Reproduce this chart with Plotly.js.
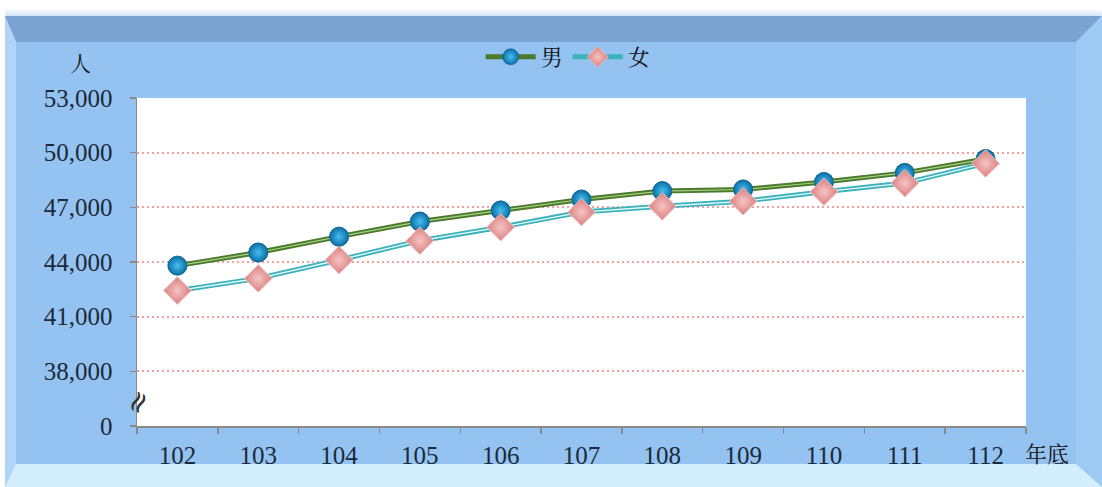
<!DOCTYPE html>
<html>
<head>
<meta charset="utf-8">
<script src="https://cdn.plot.ly/plotly-3.0.1.min.js"></script>
<style>
  html, body { margin:0; padding:0; background:#ffffff; }
  #wrap { position:relative; width:1102px; height:487px; overflow:hidden; }
  .pc { position:absolute; left:0; top:0; width:1102px; height:487px; }
  #frame { background:#95c3f1; }
  #topstrip { position:absolute; left:5px; top:10px; width:1097px; height:6px;
    background:linear-gradient(#f2f7fc,#d6e7f7); }
  #topbev { clip-path:polygon(5px 16px,1102px 16px,1076px 42px,16px 42px);
    background:linear-gradient(#7ba2d1,#8bb7e7); }
  #leftbev { clip-path:polygon(5px 16px,16px 42px,16px 464px,5px 487px);
    background:linear-gradient(90deg,#b0d5f7,#a0cbf4); }
  #rightbev { clip-path:polygon(1102px 16px,1076px 42px,1076px 464px,1102px 487px);
    background:linear-gradient(90deg,#84b4e9,#9ecbf4); }
  #botbev { clip-path:polygon(5px 487px,16px 464px,1076px 464px,1102px 487px);
    background:linear-gradient(#b2daf8,#d3effd); }
  #outer { clip-path:polygon(5px 10px,1102px 10px,1102px 487px,5px 487px); }
  #chart { position:absolute; left:0; top:0; width:1102px; height:487px; }
</style>
</head>
<body>
<div id="wrap">
  <div id="outer" class="pc">
    <div id="frame" class="pc"></div>
    <div id="topbev" class="pc"></div>
    <div id="leftbev" class="pc"></div>
    <div id="rightbev" class="pc"></div>
    <div id="botbev" class="pc"></div>
    <div id="topstrip"></div>
  </div>
  <div id="chart"></div>
</div>
<script>
// ---- data ----
const years = ["102","103","104","105","106","107","108","109","110","111","112"];
const male = [43800, 44520, 45390, 46220, 46830, 47430, 47890, 47980, 48390, 48890, 49650];
const female = [42430, 43100, 44110, 45170, 45910, 46740, 47060, 47330, 47860, 48330, 49410];
const yTickVals = [35000, 38000, 41000, 44000, 47000, 50000, 53000];
const yTickText = ["0", "38,000", "41,000", "44,000", "47,000", "50,000", "53,000"];
const maleName = "男";
const femaleName = "女";
const yUnit = "人";
const xUnit = "年底";

const serif = "Liberation Serif, DejaVu Serif, serif";
const cjk = "Noto Serif CJK TC, Noto Sans CJK TC, sans-serif";

// gradient.color = centre colour, marker.color = edge colour
const maleMarker = {symbol:"circle", size:19, color:"#0c6fa6",
  gradient:{type:"radial", color:"#45bff0"}, line:{color:"#0a5f8c", width:0.6}};
const femaleMarker = {symbol:"diamond", size:21, color:"#d97f80",
  gradient:{type:"radial", color:"#f7c4c3"}, line:{color:"#f0bdbc", width:1}};

const traces = [
  {x:years, y:male, name:maleName, type:"scatter", mode:"lines+markers",
   line:{color:"#4a7b2b", width:5}, marker:maleMarker, legendgroup:"m"},
  {x:years, y:male, type:"scatter", mode:"lines", showlegend:false, hoverinfo:"skip",
   line:{color:"#a8cf88", width:1.2}, legendgroup:"m"},
  {x:years, y:female, name:femaleName, type:"scatter", mode:"lines+markers",
   line:{color:"#3cb2bd", width:5}, marker:femaleMarker, legendgroup:"f"},
  {x:years, y:female, type:"scatter", mode:"lines", showlegend:false, hoverinfo:"skip",
   line:{color:"#e9fafb", width:1.3}, legendgroup:"f"},
  {x:years, y:male, type:"scatter", mode:"markers", showlegend:false, hoverinfo:"skip",
   marker:maleMarker, legendgroup:"m"},
  {x:years, y:female, type:"scatter", mode:"markers", showlegend:false, hoverinfo:"skip",
   marker:femaleMarker, legendgroup:"f"}
];

const layout = {
  width:1102, height:487,
  margin:{l:137, r:76, t:98, b:61},
  paper_bgcolor:"rgba(0,0,0,0)",
  plot_bgcolor:"#ffffff",
  showlegend:true,
  legend:{orientation:"h", x:0.485, xanchor:"center", y:1.125, yanchor:"middle",
    font:{family:cjk, size:22, color:"#111"}, bgcolor:"rgba(0,0,0,0)",
    itemwidth:50, traceorder:"normal"},
  xaxis:{type:"category", categoryorder:"array", categoryarray:years,
    range:[-0.5, 10.5], autorange:false,
    showline:true, linecolor:"#8a8a8a", linewidth:1.5,
    ticks:"outside", tickson:"boundaries", ticklen:6, tickcolor:"#8a8a8a", tickwidth:1.5,
    showgrid:false, zeroline:false, ticklabelstandoff:6,
    tickfont:{family:serif, size:25, color:"#1a2a3a"}},
  yaxis:{range:[35000,53000], autorange:false, tickmode:"array", tickvals:yTickVals, ticktext:yTickText,
    showline:true, linecolor:"#8a8a8a", linewidth:1.5,
    ticks:"outside", ticklen:6, tickcolor:"#8a8a8a", tickwidth:1.5,
    showgrid:true, gridcolor:"#f3a0a0", griddash:"2px,3px", gridwidth:2,
    zeroline:false, ticklabelstandoff:12,
    tickfont:{family:serif, size:25, color:"#1a2a3a"}},
  annotations:[
    {xref:"paper", yref:"paper", x:-0.064, y:1.11, text:yUnit, showarrow:false,
     font:{family:cjk, size:21, color:"#111"}, xanchor:"center", yanchor:"middle"},
    {xref:"paper", yref:"paper", x:1.024, y:-0.082, text:xUnit, showarrow:false,
     font:{family:cjk, size:22, color:"#111"}, xanchor:"center", yanchor:"middle"},
    {xref:"paper", yref:"y", x:0, y:36300, text:"≈", showarrow:false, textangle:-65,
     font:{family:"DejaVu Serif, DejaVu Sans", size:30, color:"#333"}, xanchor:"center", yanchor:"middle"}
  ]
};

Plotly.newPlot("chart", traces, layout, {displayModeBar:false, staticPlot:true});
</script>
</body>
</html>
